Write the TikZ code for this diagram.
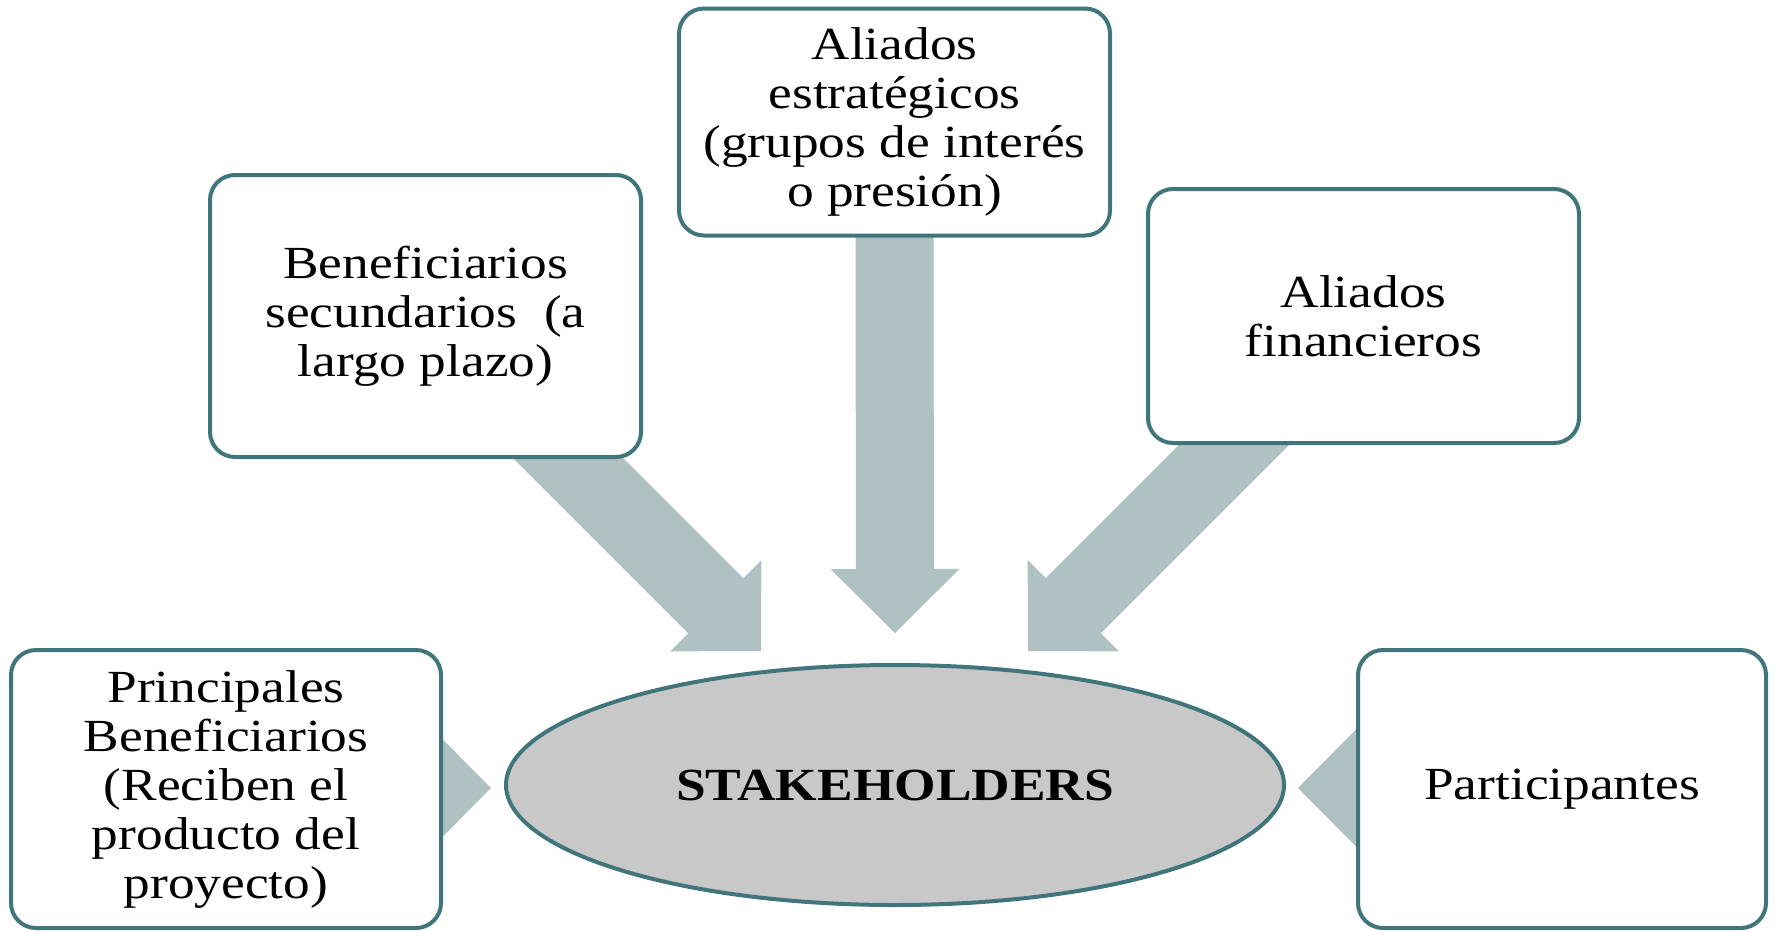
\documentclass[tikz,border=0pt]{standalone}
\usepackage{fontspec}
\setmainfont{Liberation Serif}[FakeStretch=1.16]
\usetikzlibrary{calc,shapes.geometric}
\definecolor{tealline}{RGB}{64,118,123}
\definecolor{arrowgray}{RGB}{176,193,196}
\definecolor{ellgray}{RGB}{200,200,200}
\pgfdeclarelayer{background}
\pgfsetlayers{background,main}
\newcommand{\blockarrow}[2]{%
  \coordinate (ba-base) at ($(#2)!64pt!(#1)$);
  \fill[arrowfill] ($(#1)!39pt!90:(#2)$) -- ($(ba-base)!39pt!90:(#2)$) -- ($(ba-base)!64.5pt!90:(#2)$) -- (#2) -- ($(ba-base)!64.5pt!-90:(#2)$) -- ($(ba-base)!39pt!-90:(#2)$) -- ($(#1)!39pt!-90:(#2)$) -- cycle;}
\begin{document}
\begin{tikzpicture}[x=1pt,y=-1pt,
  sbox/.style={draw=tealline, line width=4pt, fill=white, rounded corners=25pt,
    inner sep=0pt, align=center, font=\fontsize{46}{49}\selectfont},
  arrowfill/.style={fill=arrowgray},
  stake/.style={ellipse, draw=tealline, line width=4pt, fill=ellgray, inner sep=0pt,
    font=\fontsize{46}{49}\selectfont\bfseries}]
\useasboundingbox (0,0) rectangle (1775,930);

\node[sbox, minimum width=431pt, minimum height=227pt] (top) at (894.5,122)
  {Aliados\\estratégicos\\(grupos de interés\\o presión)};
\node[sbox, minimum width=431pt, minimum height=282pt] (lu) at (425.5,316)
  {Beneficiarios\\secundarios\ \ (a\\largo plazo)};
\node[sbox, minimum width=431pt, minimum height=254pt] (ru) at (1363.5,316)
  {Aliados\\financieros};
\node[sbox, minimum width=430pt, minimum height=278pt] (lb) at (226,789)
  {Principales\\Beneficiarios\\(Reciben el\\producto del\\proyecto)};
\node[sbox, minimum width=408pt, minimum height=278pt] (rb) at (1562,789)
  {Participantes};
\node[stake, minimum width=778pt, minimum height=240pt] (st) at (895,785) {STAKEHOLDERS};

% arrow end points
\coordinate (vs) at ($(top.south)+(0,-30)$);
\coordinate (vt) at ($(st.north)+(0,-30)$);
\coordinate (ls) at (539,429);
\coordinate (lt) at (761,651);
\coordinate (rs) at (1266,413);
\coordinate (rt) at (1028,651);
\coordinate (hls) at (380,788);
\coordinate (hlt) at (491,788);
\coordinate (hrs) at (1420,788);
\coordinate (hrt) at (1298,788);

\begin{pgfonlayer}{background}
  \blockarrow{vs}{vt}
  \blockarrow{ls}{lt}
  \blockarrow{rs}{rt}
  \blockarrow{hls}{hlt}
  \blockarrow{hrs}{hrt}
\end{pgfonlayer}
\end{tikzpicture}
\end{document}
